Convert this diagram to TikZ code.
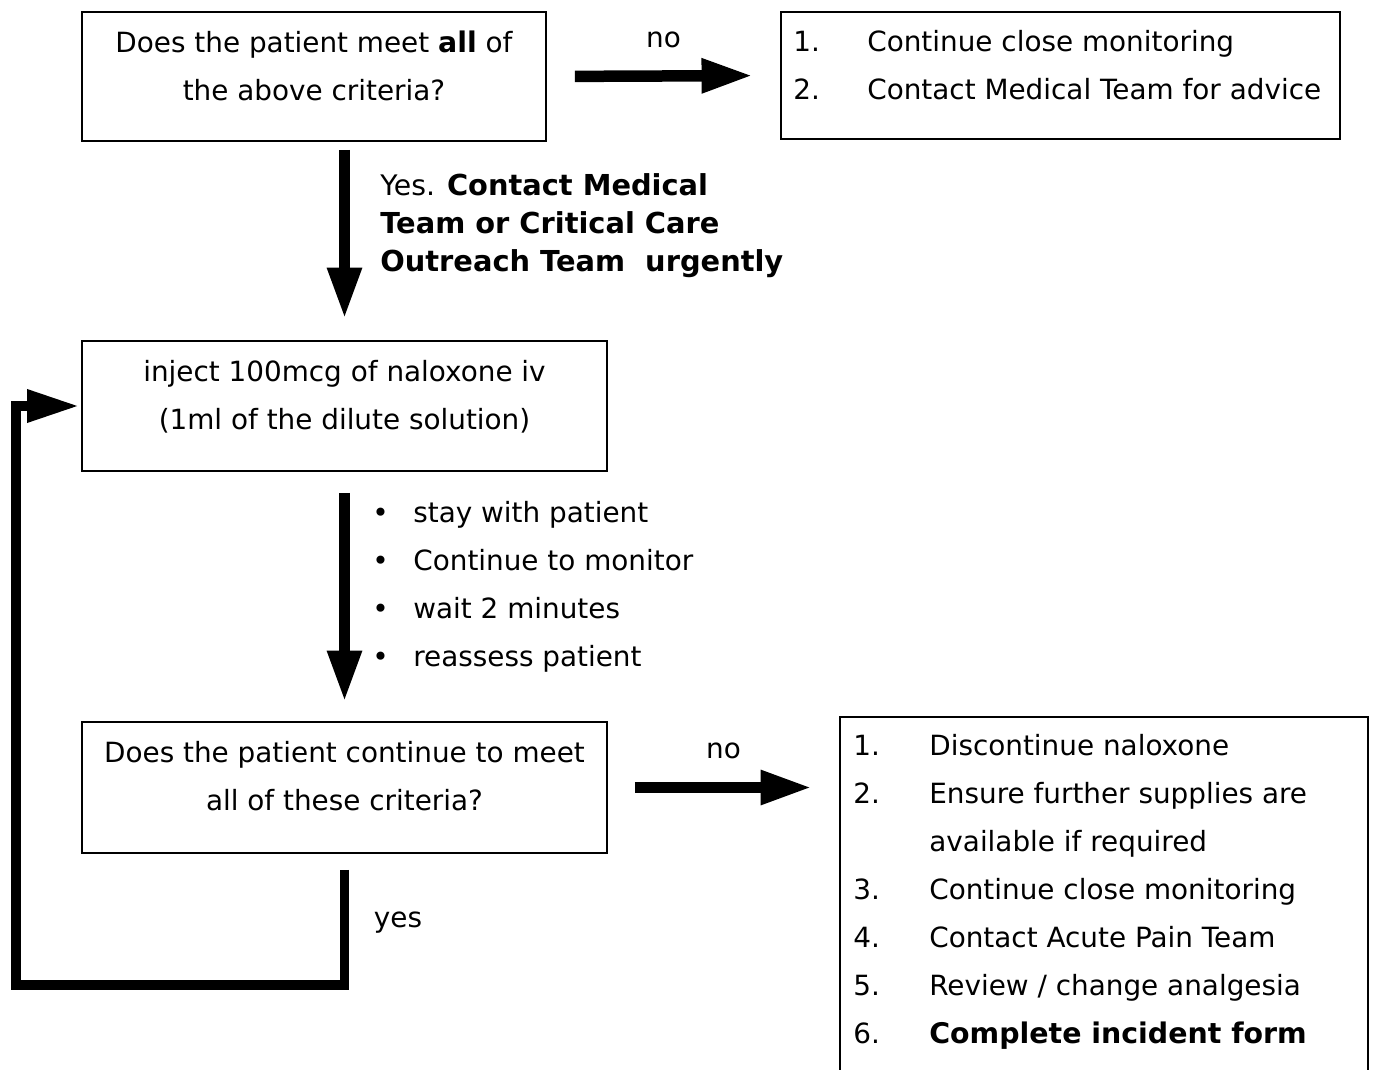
\documentclass[tikz,border=0pt]{standalone}
\usepackage{fontspec}
\setmainfont{DejaVu Sans}[BoldFeatures={Scale=1.02}]
\usetikzlibrary{arrows.meta}
\tikzset{
  box/.style={draw,line width=1.1pt,rectangle,inner sep=0pt},
  txt/.style={align=center,inner sep=0pt,font=\fontsize{15.85}{27.3}\selectfont},
  fat/.style={line width=0.23cm,-{Triangle[length=1.03cm,width=0.64cm]}},
}
\begin{document}
\begin{tikzpicture}
\useasboundingbox (0,0) rectangle (27.48,-21.4);

\node[box,minimum width=9.28cm,minimum height=2.58cm](ask) at (6.28,-1.53) {};
\node[txt](asktext) at (6.28,-1.32) {Does the patient meet \textbf{all} of\\the above criteria?};

\node[box,minimum width=11.18cm,minimum height=2.54cm](monitor) at (21.21,-1.51) {};
\node[txt,anchor=west](monitortext) at (15.86,-1.32) {%
\begin{tabular}{@{}p{1.48cm}@{}l@{}}
1. & Continue close monitoring\\
2. & Contact Medical Team for advice
\end{tabular}};

\node[box,minimum width=10.5cm,minimum height=2.6cm](inject) at (6.89,-8.12) {};
\node[txt](injecttext) at (6.89,-7.93) {inject 100mcg of naloxone iv\\(1ml of the dilute solution)};

\node[box,minimum width=10.5cm,minimum height=2.62cm](again) at (6.89,-15.75) {};
\node[txt](againtext) at (6.89,-15.53) {Does the patient continue to meet\\all of these criteria?};

\node[box,minimum width=10.56cm,minimum height=7.46cm](stop) at (22.08,-18.07) {};
\node[txt,anchor=west](stoptext) at (17.06,-17.8) {%
\begin{tabular}{@{}p{1.52cm}@{}l@{}}
1. & Discontinue naloxone\\
2. & Ensure further supplies are\\
   & available if required\\
3. & Continue close monitoring\\
4. & Contact Acute Pain Team\\
5. & Review / change analgesia\\
6. & \textbf{Complete incident form}
\end{tabular}};

\draw[fat,shorten <=0.56cm,shorten >=0.54cm] (ask.east) -- (monitor.west)
  node[txt,pos=0.5,above=0.45cm](no1) {no};
\draw[fat,shorten <=0.16cm,shorten >=0.42cm] (ask.south -| inject.center) -- (inject.north);
\node[txt,anchor=west,align=left,font=\fontsize{16.1}{21.6}\selectfont](yes1) at (7.6,-4.52)
  {Yes. \textbf{Contact Medical}\\\textbf{Team or Critical Care}\\\textbf{Outreach Team\ \ urgently}};

\draw[fat,shorten <=0.42cm,shorten >=0.38cm] (inject.south) -- (again.north);
\node[txt,anchor=west](todo) at (7.44,-11.7) {%
\begin{tabular}{@{}p{0.82cm}@{}l@{}}
\textbullet & stay with patient\\
\textbullet & Continue to monitor\\
\textbullet & wait 2 minutes\\
\textbullet & reassess patient
\end{tabular}};

\draw[fat,shorten <=0.54cm,shorten >=0.54cm] (again.east) -- (again.east -| stop.west)
  node[txt,pos=0.5,above=0.45cm](no2) {no};

\coordinate (corner) at (0.32,-19.7);
\draw[line width=0.19cm,-{Triangle[length=1.04cm,width=0.62cm]},shorten <=0.32cm,shorten >=0.04cm]
  (again.south) -- (again.south |- corner) -- (corner) |- (inject.west);
\node[txt](yes2) at (7.96,-18.46) {yes};

\end{tikzpicture}
\end{document}
